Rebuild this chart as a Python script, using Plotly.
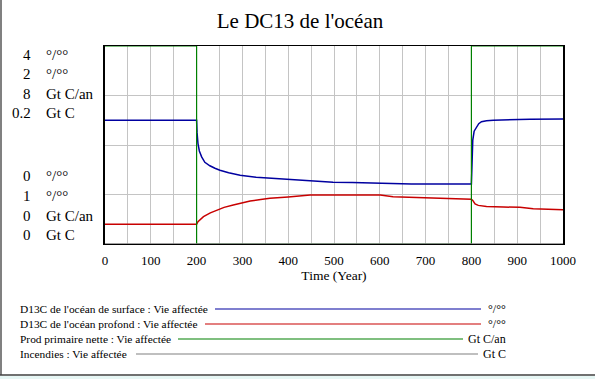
import plotly.graph_objects as go

# ---------------- data ----------------
surface_years = [0, 200, 201, 203, 206, 211, 218, 229, 240, 251, 270, 295, 330, 360, 400, 426,
                 460, 498, 540, 571, 620, 669, 720, 800, 801, 803, 806, 811, 816, 822, 833,
                 848, 880, 928, 1000]
surface_d13c = [2.50, 2.50, 2.25, 2.03, 1.88, 1.76, 1.65, 1.58, 1.53, 1.49, 1.44, 1.39, 1.35,
                1.33, 1.31, 1.29, 1.27, 1.25, 1.24, 1.23, 1.22, 1.21, 1.21, 1.21, 1.50, 2.10,
                2.28, 2.37, 2.43, 2.47, 2.49, 2.50, 2.51, 2.52, 2.525]

deep_years = [0, 200, 203, 208, 215, 230, 244, 260, 280, 300, 317, 340, 360, 400, 426, 448,
              500, 601, 629, 702, 753, 800, 803, 808, 815, 833, 870, 906, 935, 1000]
deep_d13c = [1.10, 1.10, 1.113, 1.125, 1.138, 1.157, 1.172, 1.185, 1.197, 1.208, 1.217, 1.225,
             1.231, 1.238, 1.241, 1.247, 1.247, 1.247, 1.239, 1.234, 1.229, 1.226, 1.220, 1.202,
             1.195, 1.190, 1.187, 1.185, 1.178, 1.173]

npp_years = [0, 200, 800, 1000]
npp_values = [8, 0, 8, 8]

fire_years = [0, 1000]
fire_values = [0, 0]

series_names = ["D13C de l'océan de surface : Vie affectée",
                "D13C de l'océan profond : Vie affectée",
                "Prod primaire nette : Vie affectée",
                "Incendies : Vie affectée"]
series_units = ["°/°°", "°/°°", "Gt C/an", "Gt C"]
axis_min = [0, 1, 0, 0]
axis_max = [4, 2, 8, 0.2]
series_colors = ["#0000a0", "#c80000", "#008000", "#808080"]

x_ticks = [0, 100, 200, 300, 400, 500, 600, 700, 800, 900, 1000]

# ---------------- geometry ----------------
W, H = 595, 379
L, R, T, B = 105, 563, 46, 244


def px(x):
    return (x - L) / (R - L)


def py(y):
    return (B - y) / (B - T)


fig = go.Figure()

fig.add_trace(go.Scatter(x=fire_years, y=fire_values, yaxis="y4", mode="lines",
                         line=dict(color=series_colors[3], width=1.5), name=series_names[3]))
fig.add_trace(go.Scatter(x=npp_years, y=npp_values, yaxis="y3", mode="lines",
                         line=dict(color=series_colors[2], width=1.2, shape="hv"), name=series_names[2]))
fig.add_trace(go.Scatter(x=deep_years, y=deep_d13c, yaxis="y2", mode="lines",
                         line=dict(color=series_colors[1], width=1.5), name=series_names[1]))
fig.add_trace(go.Scatter(x=surface_years, y=surface_d13c, yaxis="y", mode="lines",
                         line=dict(color=series_colors[0], width=1.5), name=series_names[0]))

serif = "'Liberation Serif', 'Times New Roman', 'DejaVu Serif', serif"
grid = "#c4c4c4"

fig.update_layout(
    width=W, height=H,
    margin=dict(l=L, r=W - R, t=T, b=H - B, autoexpand=False),
    paper_bgcolor="white", plot_bgcolor="white",
    showlegend=False,
    font=dict(family=serif, color="black"),
    title=dict(text="Le DC13 de l'océan", x=300 / W, xanchor="center", y=1 - 21 / H,
               yanchor="middle", font=dict(family=serif, size=21, color="black")),
    xaxis=dict(range=[0, 1000], tickvals=x_ticks, ticks="", showgrid=True, gridcolor=grid,
               gridwidth=1, minor=dict(dtick=50, showgrid=True, gridcolor=grid, gridwidth=1),
               zeroline=False, showline=True, linecolor="black", linewidth=1, mirror=True,
               tickfont=dict(family=serif, size=13, color="black"), ticklabelstandoff=4,
               title=dict(text="Time (Year)", font=dict(family=serif, size=13.5, color="black"),
                          standoff=3)),
    yaxis=dict(range=[axis_min[0], axis_max[0]], dtick=1, showticklabels=False, ticks="",
               showgrid=True, gridcolor=grid, zeroline=False, showline=True, linecolor="black",
               linewidth=2, mirror=True),
    yaxis2=dict(range=[axis_min[1], axis_max[1]], overlaying="y", visible=False),
    yaxis3=dict(range=[axis_min[2], axis_max[2]], overlaying="y", visible=False),
    yaxis4=dict(range=[axis_min[3], axis_max[3]], overlaying="y", visible=False),
)

# y-axis scale labels (top = max, bottom = min)
top_rows = [55, 74, 94, 113]
bot_rows = [176, 196, 216, 235]
for i in range(4):
    for row, val in ((top_rows[i], axis_max[i]), (bot_rows[i], axis_min[i])):
        fig.add_annotation(x=px(33), y=py(row), xref="paper", yref="paper", text=f"{val:g}",
                           showarrow=False, xanchor="right", yanchor="middle",
                           font=dict(family=serif, size=15, color="black"))
        fig.add_annotation(x=px(44), y=py(row), xref="paper", yref="paper", text=series_units[i],
                           showarrow=False, xanchor="left", yanchor="middle",
                           font=dict(family=serif, size=15, color="black"))

# legend block
leg_rows = [309, 324, 339, 354]
line_start = [215, 205, 178, 136]
line_end = [481, 481, 463, 478]
for i in range(4):
    fig.add_annotation(x=px(18), y=py(leg_rows[i]), xref="paper", yref="paper",
                       text=series_names[i], showarrow=False, xanchor="left", yanchor="middle",
                       font=dict(family=serif, size=11.4, color="black"))
    fig.add_annotation(x=px(508), y=py(leg_rows[i]), xref="paper", yref="paper",
                       text=series_units[i], showarrow=False, xanchor="right", yanchor="middle",
                       font=dict(family=serif, size=12, color="black"))
    fig.add_shape(type="line", xref="paper", yref="paper",
                  x0=px(line_start[i]), x1=px(line_end[i]), y0=py(leg_rows[i]), y1=py(leg_rows[i]),
                  line=dict(color=series_colors[i], width=1.2))

# window frame
fig.add_shape(type="line", xref="paper", yref="paper", x0=px(1), x1=px(1), y0=py(0), y1=py(375),
              line=dict(color="#808080", width=2))
fig.add_shape(type="line", xref="paper", yref="paper", x0=px(0), x1=px(595), y0=py(375), y1=py(375),
              line=dict(color="#404040", width=1.5))
fig.add_shape(type="rect", xref="paper", yref="paper", x0=px(0), x1=px(595), y0=py(376), y1=py(380),
              line=dict(width=0), fillcolor="#e6f6f4")

fig.write_html("out.html", config={"displayModeBar": False},
               post_script="document.body.style.margin='0';")
